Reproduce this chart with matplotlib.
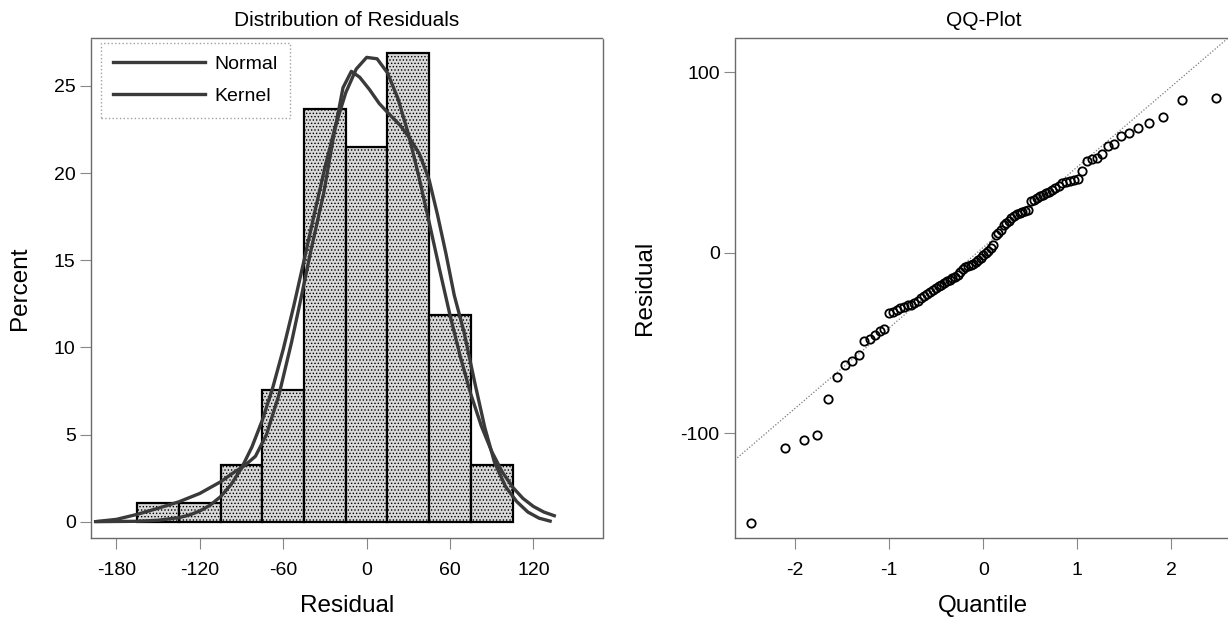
import matplotlib
matplotlib.use("Agg")
import matplotlib.pyplot as plt
from statistics import NormalDist

plt.rcParams['font.family'] = ['Liberation Sans', 'DejaVu Sans']
plt.rcParams['axes.unicode_minus'] = False
plt.rcParams['hatch.color'] = '#8c8c8c'
plt.rcParams['hatch.linewidth'] = 0.6

# histogram of residuals (percent per 30-wide bin)
bin_centers = [-150, -120, -90, -60, -30, 0, 30, 60, 90]
bin_percent = [1.08, 1.08, 3.23, 7.53, 23.66, 21.51, 26.88, 11.83, 3.23]
bin_width = 30

# fitted normal curve (percent scale)
normal_x = [-195, -180, -165, -150, -135, -127.5, -120, -112.5, -105, -97.5, -90, -82.5, -75,
            -67.5, -60, -52.5, -45, -37.5, -30, -22.5, -15, -7.5, 0, 7.5, 15, 22.5, 30,
            37.5, 45, 52.5, 60, 67.5, 75, 82.5, 90, 97.5, 105, 112.5, 120, 127.5, 135]
normal_y = [0.00, 0.01, 0.02, 0.08, 0.23, 0.38, 0.61, 0.95, 1.44, 2.13, 3.07, 4.29, 5.83,
            7.70, 9.89, 12.35, 15.0, 17.71, 20.33, 22.69, 24.62, 25.97, 26.64, 26.56, 25.75, 24.28, 22.25,
            19.82, 17.17, 14.46, 11.84, 9.43, 7.30, 5.49, 4.02, 2.86, 1.98, 1.33, 0.87, 0.55, 0.34]

# kernel density curve
kernel_x = [-193, -180, -165, -150, -135, -120, -105, -95, -88, -80, -72, -63, -54, -47, -40,
            -31, -24, -17, -11, -5, 2, 9, 16, 24, 31, 38, 45, 51, 57, 63, 70, 78, 85, 92,
            100, 108, 116, 124, 132]
kernel_y = [0.02, 0.13, 0.42, 0.77, 1.14, 1.62, 2.29, 2.85, 3.2, 3.75, 5.0, 7.3, 10.3, 12.9, 15.6,
            18.8, 22.0, 24.9, 25.84, 25.5, 24.8, 24.0, 23.4, 22.75, 22.0, 21.1, 19.6, 17.6, 15.4, 13.0,
            10.9, 7.9, 5.4, 3.4, 2.0, 1.15, 0.55, 0.2, 0.03]

# sorted residuals for the QQ plot
residuals = [-150, -108.5, -104, -101, -81, -69, -62.5, -60, -56.5, -49, -48, -45.5, -43.5, -42,
             -33.3, -32.7, -32.0, -30.4, -29.8, -29.2, -28.8, -27.7, -26.5, -25.3, -24.2, -23.1,
             -21.9, -20.6, -19.3, -18.4, -17.6, -16.6, -15.7, -15.2, -14.2, -13.2, -12.1, -10.8,
             -9.2, -7.8, -7.1, -6.7, -6.0, -5.1, -3.9, -2.7, -1.4, -0.3, 1.0, 2.6, 4.2, 10.0,
             11.2, 12.6, 15.2, 16.6, 17.8, 19.3, 20.5, 21.3, 22.3, 22.8, 23.3, 24.0, 28.5, 29.5,
             30.4, 31.3, 32.2, 33.0, 33.9, 34.8, 35.8, 37.0, 38.7, 39.5, 40.0, 40.5, 41.0, 45.5,
             50.9, 52.0, 52.8, 54.6, 59.2, 60.2, 64.8, 66.3, 69.0, 72.2, 75.5, 85.0, 86.0]
ref_mean = 3.0
ref_sd = 44.6

n = len(residuals)
quantiles = [NormalDist().inv_cdf((i + 1 - 0.375) / (n + 0.25)) for i in range(n)]

fig = plt.figure(figsize=(12.28, 6.17), dpi=100)
ax1 = fig.add_axes([0.0741, 0.128, 0.4169, 0.8112])
ax2 = fig.add_axes([0.5985, 0.128, 0.4044, 0.8112])

frame_col = '#6a6a6a'
for ax in (ax1, ax2):
    for s in ax.spines.values():
        s.set_color(frame_col)
        s.set_linewidth(1.0)
        s.set_linestyle((0, (2, 1)))
    ax.tick_params(axis='both', colors='#888888', labelcolor='black', labelsize=14,
                   length=8, width=0.8, direction='out')
    ax.tick_params(axis='x', pad=9)
    ax.tick_params(axis='y', pad=3)

# left panel
ax1.bar(bin_centers, bin_percent, width=bin_width, facecolor='#d9d9d9', edgecolor='black',
        linewidth=1.6, hatch='.....', zorder=2)
ax1.plot(normal_x, normal_y, color='#3a3a3a', lw=2.4, label='Normal', zorder=3)
ax1.plot(kernel_x, kernel_y, color='#3a3a3a', lw=2.4, label='Kernel', zorder=3)
ax1.set_xlim(-198.3, 170)
ax1.set_ylim(-0.94, 27.78)
ax1.set_xticks([-180, -120, -60, 0, 60, 120])
ax1.set_yticks([0, 5, 10, 15, 20, 25])
ax1.set_title('Distribution of Residuals', fontsize=15, pad=8)
ax1.set_xlabel('Residual', fontsize=17.5, labelpad=12)
ax1.set_ylabel('Percent', fontsize=17.5)
ax1.yaxis.set_label_coords(-0.118, 0.5)
leg = ax1.legend(loc='upper left', bbox_to_anchor=(0.019, 0.99), fontsize=14, frameon=True,
                 fancybox=False, handlelength=4.7, handletextpad=0.5, borderpad=0.65,
                 labelspacing=0.75, borderaxespad=0)
leg.get_frame().set_edgecolor('#8a8a8a')
leg.get_frame().set_linestyle(':')
leg.get_frame().set_linewidth(1.0)

# right panel
ax2.axline((0, ref_mean), slope=ref_sd, color='#7a7a7a', lw=0.9, linestyle=(0, (1, 1.5)), zorder=1)
ax2.plot(quantiles, residuals, linestyle='none', marker='o', markersize=6,
         markerfacecolor='none', markeredgecolor='black', markeredgewidth=1.3, zorder=2)
ax2.set_xlim(-2.641, 2.641)
ax2.set_ylim(-158.2, 119.4)
ax2.set_xticks([-2, -1, 0, 1, 2])
ax2.set_yticks([-100, 0, 100])
ax2.set_title('QQ-Plot', fontsize=15, pad=8)
ax2.set_xlabel('Quantile', fontsize=17.5, labelpad=12)
ax2.set_ylabel('Residual', fontsize=17.5)
ax2.yaxis.set_label_coords(-0.158, 0.5)

fig.savefig('out.png', dpi=100)
